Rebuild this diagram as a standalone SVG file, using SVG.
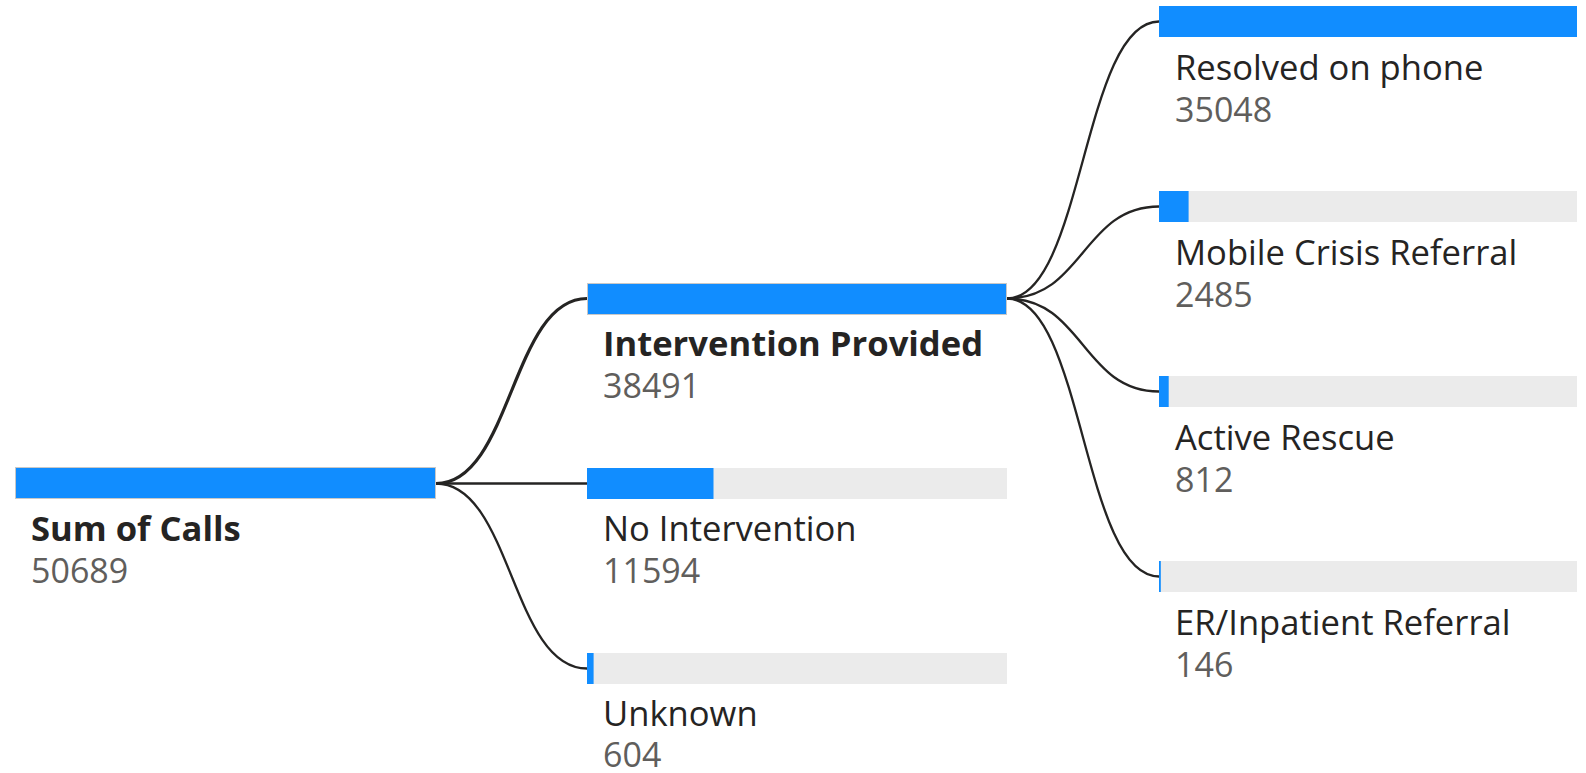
<svg xmlns="http://www.w3.org/2000/svg" width="1586" height="773" viewBox="0 0 1586 773">
<style>
.bg{fill:#ebebeb}
.val{fill:#118dff}
.sel{fill:#118dff;stroke:#c8c8c8;stroke-width:1}
.lbl{font-family:"Open Sans","Liberation Sans",sans-serif;font-size:34.6px;fill:#252423}
.lblb{font-family:"Open Sans","Liberation Sans",sans-serif;font-size:34.6px;font-weight:bold;fill:#252423}
.num{font-family:"Open Sans","Liberation Sans",sans-serif;font-size:34px;fill:#605e5c}
.edge{fill:none;stroke:#252423;stroke-width:2.3}
.edge.path{stroke-width:3.2}
</style>
<rect width="1586" height="773" fill="#ffffff"/>
<g id="connectors">
<path class="edge path" d="M436 483.5 C511.5 483.5 511.5 298.5 587 298.5"/>
<path class="edge" d="M436 483.5 L587 483.5"/>
<path class="edge" d="M436 483.5 C511.5 483.5 511.5 668.5 587 668.5"/>
<path class="edge" d="M1007 298.5 C1083 298.5 1083 21.5 1159 21.5"/>
<path class="edge" d="M1007 298.5 C1083 298.5 1083 206.5 1159 206.5"/>
<path class="edge" d="M1007 298.5 C1083 298.5 1083 391.5 1159 391.5"/>
<path class="edge" d="M1007 298.5 C1083 298.5 1083 576.5 1159 576.5"/>
</g>
<g id="node-root">
<rect class="sel" x="15.5" y="467.5" width="420" height="31"/>
<text class="lblb" x="31" y="541">Sum of Calls</text>
<text class="num" x="31" y="583">50689</text>
</g>
<g id="node-intervention-provided">
<rect class="sel" x="587.5" y="283.5" width="419" height="31"/>
<text class="lblb" x="603" y="356">Intervention Provided</text>
<text class="num" x="603" y="398">38491</text>
</g>
<g id="node-no-intervention">
<rect class="bg" x="587" y="468" width="420" height="31"/>
<rect class="val" x="587" y="468" width="126.5" height="31"/>
<text class="lbl" x="603" y="541">No Intervention</text>
<text class="num" x="603" y="583">11594</text>
</g>
<g id="node-unknown">
<rect class="bg" x="587" y="653" width="420" height="31"/>
<rect class="val" x="587" y="653" width="6.6" height="31"/>
<text class="lbl" x="603" y="726">Unknown</text>
<text class="num" x="603" y="767">604</text>
</g>
<g id="node-resolved-on-phone">
<rect class="val" x="1159" y="6" width="418" height="31"/>
<text class="lbl" x="1175" y="80">Resolved on phone</text>
<text class="num" x="1175" y="122">35048</text>
</g>
<g id="node-mobile-crisis-referral">
<rect class="bg" x="1159" y="191" width="418" height="31"/>
<rect class="val" x="1159" y="191" width="29.6" height="31"/>
<text class="lbl" x="1175" y="265">Mobile Crisis Referral</text>
<text class="num" x="1175" y="307">2485</text>
</g>
<g id="node-active-rescue">
<rect class="bg" x="1159" y="376" width="418" height="31"/>
<rect class="val" x="1159" y="376" width="9.7" height="31"/>
<text class="lbl" x="1175" y="450">Active Rescue</text>
<text class="num" x="1175" y="492">812</text>
</g>
<g id="node-er-inpatient-referral">
<rect class="bg" x="1159" y="561" width="418" height="31"/>
<rect class="val" x="1159" y="561" width="1.8" height="31"/>
<text class="lbl" x="1175" y="635">ER/Inpatient Referral</text>
<text class="num" x="1175" y="677">146</text>
</g>
</svg>
